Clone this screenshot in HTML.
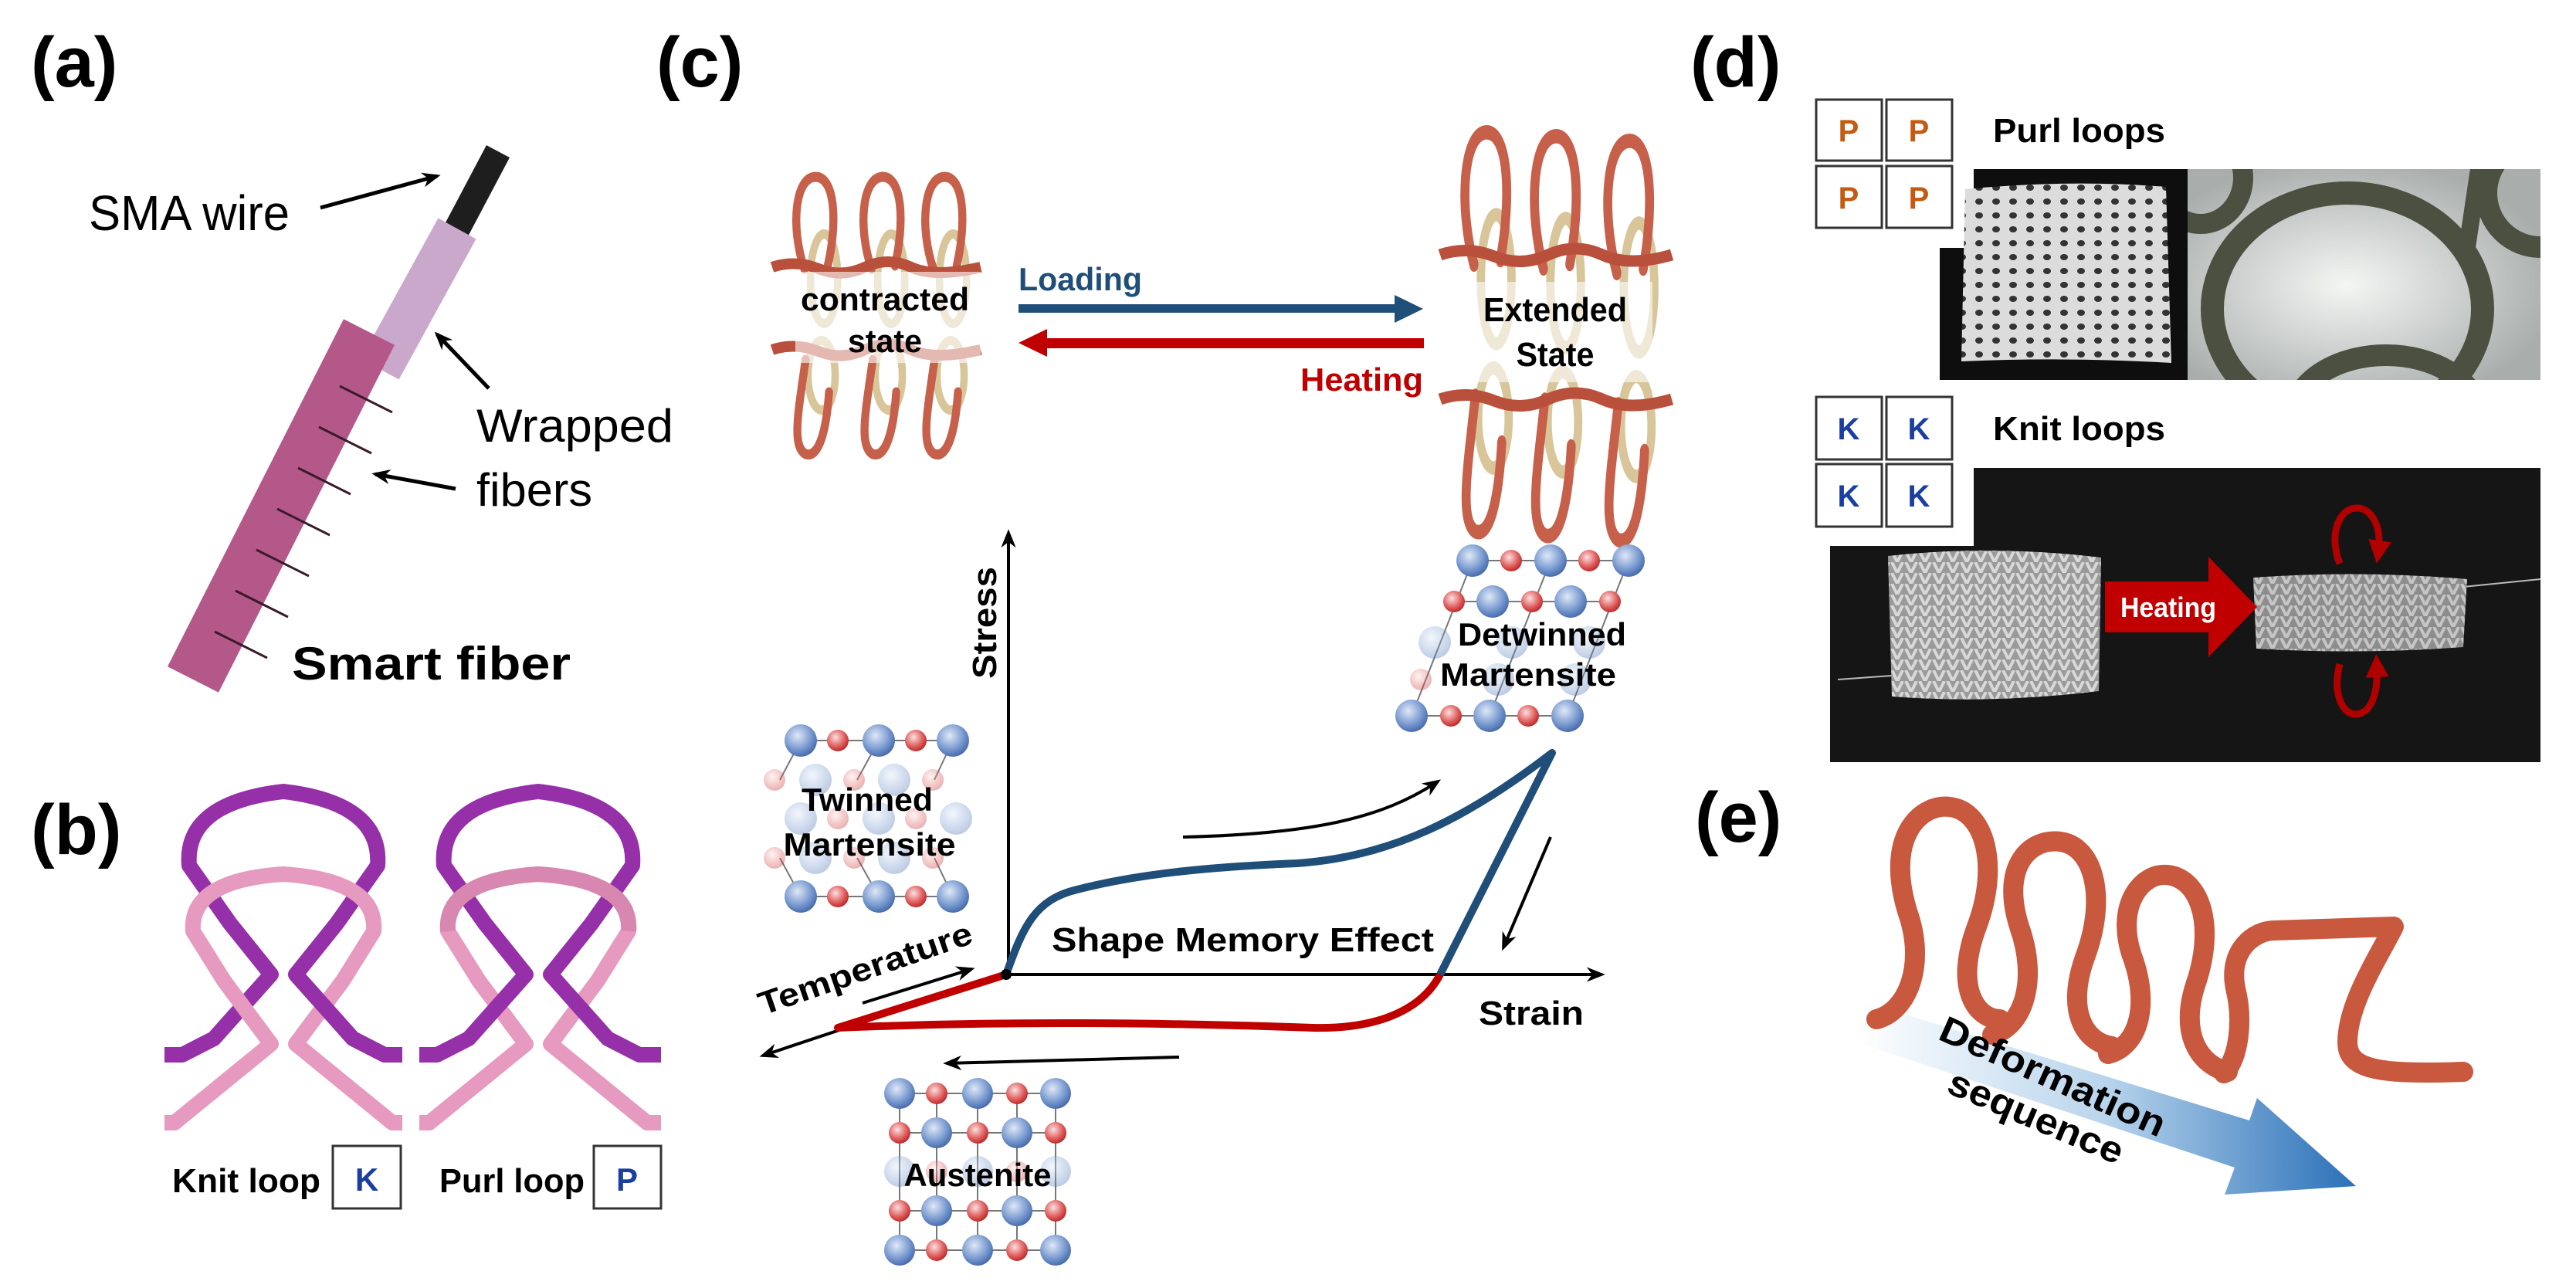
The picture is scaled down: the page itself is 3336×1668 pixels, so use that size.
<!DOCTYPE html>
<html><head><meta charset="utf-8"><style>
html,body{margin:0;padding:0;background:#fff}
svg{display:block}
text{font-family:"Liberation Sans",Arial,sans-serif}
</style></head><body>
<svg width="3336" height="1668" viewBox="0 0 3336 1668" xmlns="http://www.w3.org/2000/svg">
<defs>
<marker id="ahb" viewBox="0 0 10 10" refX="8" refY="5" markerWidth="24" markerHeight="24" orient="auto" markerUnits="userSpaceOnUse"><path d="M0,1 L10,5 L0,9 L3,5 Z" fill="#000"/></marker>
<marker id="ahr" viewBox="0 0 10 10" refX="5" refY="5" markerWidth="30" markerHeight="30" orient="auto" markerUnits="userSpaceOnUse"><path d="M0,0 L10,5 L0,10 Z" fill="#b00000"/></marker>
<radialGradient id="gb" cx="0.4" cy="0.35" r="0.7"><stop offset="0" stop-color="#dfe8f7"/><stop offset="0.6" stop-color="#7a9bd0"/><stop offset="1" stop-color="#3f63a8"/></radialGradient>
<radialGradient id="gr" cx="0.4" cy="0.35" r="0.7"><stop offset="0" stop-color="#fbe0e0"/><stop offset="0.6" stop-color="#e06060"/><stop offset="1" stop-color="#b82020"/></radialGradient>
<linearGradient id="garr" x1="0" y1="0" x2="1" y2="0"><stop offset="0" stop-color="#ffffff"/><stop offset="0.5" stop-color="#b8d4ec"/><stop offset="1" stop-color="#2a70b8"/></linearGradient>
<radialGradient id="gph" cx="0.45" cy="0.55" r="0.6"><stop offset="0" stop-color="#f4f6f4"/><stop offset="1" stop-color="#a9aeac"/></radialGradient>
<pattern id="knitp" width="22" height="18" patternUnits="userSpaceOnUse"><rect width="22" height="18" fill="#dcdcdc"/><ellipse cx="11" cy="9" rx="5" ry="4" fill="#333"/></pattern>
<pattern id="knitv" width="18" height="14" patternUnits="userSpaceOnUse"><rect width="18" height="14" fill="#9a9a9a"/><path d="M2,0 L9,14 M16,0 L9,14" stroke="#d8d8d8" stroke-width="4"/></pattern>
<g id="col">
<ellipse cx="14" cy="135" rx="22" ry="58" fill="none" stroke="#d8c69a" stroke-width="12"/>
<path d="M-18,122 C-40,70 -34,4 0,3 C32,3 36,62 20,118" fill="none" stroke="#c6604a" stroke-width="13" stroke-linecap="round"/>
<ellipse cx="10" cy="260" rx="22" ry="45" fill="none" stroke="#d8c69a" stroke-width="12"/>
<path d="M-16,240 C-26,300 -40,352 -16,362 C6,368 18,330 22,282" fill="none" stroke="#c6604a" stroke-width="13" stroke-linecap="round"/>
</g>
</defs>

<g font-weight="bold" font-size="92" fill="#000">
<text x="40" y="112">(a)</text>
<text x="850" y="112">(c)</text>
<text x="2189" y="112">(d)</text>
<text x="40" y="1106">(b)</text>
<text x="2195" y="1090">(e)</text>
</g>

<line x1="645" y1="196" x2="590" y2="300" stroke="#1e1e1e" stroke-width="34"/>
<line x1="592" y1="296" x2="492" y2="478" stroke="#c9a8cc" stroke-width="56"/>
<line x1="478" y1="430" x2="250" y2="880" stroke="#b4588a" stroke-width="74"/>
<g stroke="#3a1a2a" stroke-width="3">
<line x1="440" y1="500" x2="508" y2="534"/><line x1="413" y1="553" x2="481" y2="587"/>
<line x1="386" y1="606" x2="454" y2="640"/><line x1="359" y1="659" x2="427" y2="693"/>
<line x1="332" y1="712" x2="400" y2="746"/><line x1="305" y1="765" x2="373" y2="799"/>
<line x1="278" y1="818" x2="346" y2="852"/>
</g>
<text x="115" y="298" font-size="64" textLength="260" lengthAdjust="spacingAndGlyphs">SMA wire</text>
<line x1="415" y1="269" x2="566" y2="228" stroke="#000" stroke-width="5" marker-end="url(#ahb)"/>
<text x="617" y="572" font-size="60" textLength="255" lengthAdjust="spacingAndGlyphs">Wrapped</text>
<text x="617" y="655" font-size="60" textLength="150" lengthAdjust="spacingAndGlyphs">fibers</text>
<line x1="633" y1="503" x2="566" y2="433" stroke="#000" stroke-width="5" marker-end="url(#ahb)"/>
<line x1="590" y1="633" x2="486" y2="614" stroke="#000" stroke-width="5" marker-end="url(#ahb)"/>
<text x="378" y="880" font-size="60" font-weight="bold" textLength="361" lengthAdjust="spacingAndGlyphs">Smart fiber</text>

<g fill="none" stroke-width="20" stroke-linejoin="round">
<path d="M213,1366 H236 L277,1345 L351,1262 L298,1196 L245,1121 Q238,1040 367,1025 Q495,1040 489,1121 L436,1196 L383,1262 L457,1345 L498,1366 H521" stroke="#9630a8"/>
<path d="M213,1454 H226 L351,1352 L290,1270 L250,1206 Q245,1140 367,1132 Q489,1140 484,1206 L444,1270 L383,1352 L508,1454 H521" stroke="#e69ac0"/>
<path d="M383,1262 L457,1345 L498,1366 H521" stroke="#9630a8"/>
<path d="M543,1454 H556 L681,1352 L620,1270 L580,1206 Q575,1140 697,1132 Q819,1140 814,1206 L774,1270 L713,1352 L838,1454 H856" stroke="#e69ac0"/>
<path d="M543,1366 H566 L607,1345 L681,1262 L628,1196 L575,1121 Q568,1040 697,1025 Q825,1040 819,1121 L766,1196 L713,1262 L787,1345 L828,1366 H856" stroke="#9630a8"/>
<path d="M580,1206 Q575,1140 697,1132 Q819,1140 814,1206" stroke="#d888b0"/>
</g>
<text x="223" y="1544" font-size="44" font-weight="bold" textLength="192" lengthAdjust="spacingAndGlyphs">Knit loop</text>
<rect x="431" y="1484" width="88" height="81" fill="#fff" stroke="#333" stroke-width="3"/>
<text x="475" y="1542" font-size="42" font-weight="bold" fill="#1a3fa0" text-anchor="middle">K</text>
<text x="569" y="1544" font-size="44" font-weight="bold" textLength="188" lengthAdjust="spacingAndGlyphs">Purl loop</text>
<rect x="769" y="1484" width="87" height="81" fill="#fff" stroke="#333" stroke-width="3"/>
<text x="812" y="1542" font-size="42" font-weight="bold" fill="#1a3fa0" text-anchor="middle">P</text>

<g>
<use href="#col" transform="translate(1056,226) scale(0.8,1)"/>
<use href="#col" transform="translate(1143,226) scale(0.8,1)"/>
<use href="#col" transform="translate(1223,226) scale(0.8,1)"/>
<path d="M1000,346 Q1030,336 1060,348 T1120,346 T1180,346 T1270,346" fill="none" stroke="#b9503c" stroke-width="14"/>
<path d="M1000,453 Q1030,443 1060,455 T1120,453 T1180,453 T1270,453" fill="none" stroke="#b9503c" stroke-width="14"/>
<rect x="1030" y="352" width="240" height="118" fill="#fff" opacity="0.6"/>
</g>
<text x="1146" y="402" font-size="42" font-weight="bold" text-anchor="middle" textLength="218" lengthAdjust="spacingAndGlyphs">contracted</text>
<text x="1146" y="456" font-size="42" font-weight="bold" text-anchor="middle" textLength="96" lengthAdjust="spacingAndGlyphs">state</text>
<g>
<use href="#col" transform="translate(1925,167) scale(0.9,1.44)"/>
<use href="#col" transform="translate(2015,172) scale(0.9,1.44)"/>
<use href="#col" transform="translate(2110,178) scale(0.9,1.44)"/>
<path d="M1865,330 Q1900,318 1935,332 T2005,330 T2075,330 T2165,330" fill="none" stroke="#b9503c" stroke-width="15"/>
<path d="M1865,517 Q1900,505 1935,519 T2005,517 T2075,517 T2165,517" fill="none" stroke="#b9503c" stroke-width="15"/>
<rect x="1900" y="365" width="240" height="130" fill="#fff" opacity="0.6"/>
</g>
<text x="2014" y="416" font-size="44" font-weight="bold" text-anchor="middle" textLength="186" lengthAdjust="spacingAndGlyphs">Extended</text>
<text x="2014" y="474" font-size="44" font-weight="bold" text-anchor="middle" textLength="101" lengthAdjust="spacingAndGlyphs">State</text>

<text x="1319" y="376" font-size="42" font-weight="bold" fill="#1f4e79" textLength="160" lengthAdjust="spacingAndGlyphs">Loading</text>
<rect x="1319" y="394" width="495" height="11" fill="#1f4e79"/>
<polygon points="1806,382 1843,400 1806,418" fill="#1f4e79"/>
<rect x="1352" y="438" width="492" height="13" fill="#c00000"/>
<polygon points="1356,426 1319,444 1356,462" fill="#c00000"/>
<text x="1684" y="506" font-size="42" font-weight="bold" fill="#c00000" textLength="159" lengthAdjust="spacingAndGlyphs">Heating</text>

<line x1="1306" y1="1262" x2="1306" y2="690" stroke="#000" stroke-width="4" marker-end="url(#ahb)"/>
<line x1="1303" y1="1262" x2="2074" y2="1262" stroke="#000" stroke-width="4" marker-end="url(#ahb)"/>
<line x1="1303" y1="1262" x2="988" y2="1367" stroke="#000" stroke-width="4" marker-end="url(#ahb)"/>
<text transform="translate(1290,879) rotate(-90)" font-size="44" font-weight="bold" textLength="145" lengthAdjust="spacingAndGlyphs">Stress</text>
<path d="M1303,1262 C1325,1200 1340,1165 1395,1152 C1480,1130 1580,1122 1680,1118 C1800,1110 1900,1060 2010,975 L1865,1262" fill="none" stroke="#1f4e79" stroke-width="10" stroke-linejoin="round"/>
<path d="M1303,1262 L1085,1331 C1300,1322 1500,1324 1700,1331 C1780,1333 1840,1310 1865,1262" fill="none" stroke="#c00000" stroke-width="10" stroke-linejoin="round"/>
<circle cx="1303" cy="1262" r="7" fill="#000"/>
<path d="M1532,1084 C1700,1080 1790,1060 1862,1012" fill="none" stroke="#000" stroke-width="4" marker-end="url(#ahb)"/>
<line x1="2008" y1="1084" x2="1947" y2="1227" stroke="#000" stroke-width="4" marker-end="url(#ahb)"/>
<line x1="1527" y1="1369" x2="1226" y2="1377" stroke="#000" stroke-width="4" marker-end="url(#ahb)"/>
<line x1="1117" y1="1299" x2="1258" y2="1255" stroke="#000" stroke-width="4" marker-end="url(#ahb)"/>
<text transform="translate(988,1315) rotate(-19)" font-size="42" font-weight="bold" textLength="290" lengthAdjust="spacingAndGlyphs">Temperature</text>
<text x="1362" y="1232" font-size="44" font-weight="bold" textLength="495" lengthAdjust="spacingAndGlyphs">Shape Memory Effect</text>
<text x="1915" y="1327" font-size="44" font-weight="bold" textLength="136" lengthAdjust="spacingAndGlyphs">Strain</text>

<g stroke="#777" stroke-width="2">
<line x1="1037" y1="959" x2="1234" y2="959"/><line x1="1037" y1="1161" x2="1234" y2="1161"/>
<line x1="1037" y1="959" x2="1010" y2="1010"/><line x1="1138" y1="959" x2="1110" y2="1010"/><line x1="1234" y1="959" x2="1210" y2="1010"/>
<line x1="1010" y1="1111" x2="1037" y2="1161"/><line x1="1110" y1="1111" x2="1138" y2="1161"/><line x1="1210" y1="1111" x2="1234" y2="1161"/>
</g>
<g>
<circle cx="1037" cy="959" r="21" fill="url(#gb)"/><circle cx="1085" cy="959" r="14" fill="url(#gr)"/><circle cx="1138" cy="959" r="21" fill="url(#gb)"/><circle cx="1186" cy="959" r="14" fill="url(#gr)"/><circle cx="1234" cy="959" r="21" fill="url(#gb)"/>
<g opacity="0.35">
<circle cx="1003" cy="1010" r="14" fill="url(#gr)"/><circle cx="1056" cy="1010" r="21" fill="url(#gb)"/><circle cx="1106" cy="1010" r="14" fill="url(#gr)"/><circle cx="1158" cy="1010" r="21" fill="url(#gb)"/><circle cx="1208" cy="1010" r="14" fill="url(#gr)"/>
<circle cx="1037" cy="1060" r="21" fill="url(#gb)"/><circle cx="1085" cy="1060" r="14" fill="url(#gr)"/><circle cx="1138" cy="1060" r="21" fill="url(#gb)"/><circle cx="1186" cy="1060" r="14" fill="url(#gr)"/><circle cx="1238" cy="1060" r="21" fill="url(#gb)"/>
<circle cx="1003" cy="1111" r="14" fill="url(#gr)"/><circle cx="1056" cy="1111" r="21" fill="url(#gb)"/><circle cx="1106" cy="1111" r="14" fill="url(#gr)"/><circle cx="1158" cy="1111" r="21" fill="url(#gb)"/><circle cx="1208" cy="1111" r="14" fill="url(#gr)"/>
</g>
<circle cx="1037" cy="1161" r="21" fill="url(#gb)"/><circle cx="1085" cy="1161" r="14" fill="url(#gr)"/><circle cx="1138" cy="1161" r="21" fill="url(#gb)"/><circle cx="1186" cy="1161" r="14" fill="url(#gr)"/><circle cx="1234" cy="1161" r="21" fill="url(#gb)"/>
</g>
<text x="1123" y="1050" font-size="42" font-weight="bold" text-anchor="middle" textLength="170" lengthAdjust="spacingAndGlyphs">Twinned</text>
<text x="1126" y="1108" font-size="42" font-weight="bold" text-anchor="middle" textLength="223" lengthAdjust="spacingAndGlyphs">Martensite</text>

<g stroke="#777" stroke-width="2">
<line x1="1165" y1="1416" x2="1367" y2="1416"/><line x1="1165" y1="1467" x2="1367" y2="1467"/><line x1="1165" y1="1568" x2="1367" y2="1568"/><line x1="1165" y1="1619" x2="1367" y2="1619"/>
<line x1="1165" y1="1416" x2="1165" y2="1619"/><line x1="1213" y1="1416" x2="1213" y2="1619"/><line x1="1266" y1="1416" x2="1266" y2="1619"/><line x1="1317" y1="1416" x2="1317" y2="1619"/><line x1="1367" y1="1416" x2="1367" y2="1619"/>
</g>
<g>
<circle cx="1165" cy="1416" r="20" fill="url(#gb)"/><circle cx="1213" cy="1416" r="14" fill="url(#gr)"/><circle cx="1266" cy="1416" r="20" fill="url(#gb)"/><circle cx="1317" cy="1416" r="14" fill="url(#gr)"/><circle cx="1367" cy="1416" r="20" fill="url(#gb)"/>
<circle cx="1165" cy="1467" r="14" fill="url(#gr)"/><circle cx="1213" cy="1467" r="20" fill="url(#gb)"/><circle cx="1266" cy="1467" r="14" fill="url(#gr)"/><circle cx="1317" cy="1467" r="20" fill="url(#gb)"/><circle cx="1367" cy="1467" r="14" fill="url(#gr)"/>
<g opacity="0.35"><circle cx="1165" cy="1517" r="20" fill="url(#gb)"/><circle cx="1213" cy="1517" r="14" fill="url(#gr)"/><circle cx="1266" cy="1517" r="20" fill="url(#gb)"/><circle cx="1317" cy="1517" r="14" fill="url(#gr)"/><circle cx="1367" cy="1517" r="20" fill="url(#gb)"/></g>
<circle cx="1165" cy="1568" r="14" fill="url(#gr)"/><circle cx="1213" cy="1568" r="20" fill="url(#gb)"/><circle cx="1266" cy="1568" r="14" fill="url(#gr)"/><circle cx="1317" cy="1568" r="20" fill="url(#gb)"/><circle cx="1367" cy="1568" r="14" fill="url(#gr)"/>
<circle cx="1165" cy="1619" r="20" fill="url(#gb)"/><circle cx="1213" cy="1619" r="14" fill="url(#gr)"/><circle cx="1266" cy="1619" r="20" fill="url(#gb)"/><circle cx="1317" cy="1619" r="14" fill="url(#gr)"/><circle cx="1367" cy="1619" r="20" fill="url(#gb)"/>
</g>
<text x="1266" y="1536" font-size="42" font-weight="bold" text-anchor="middle" textLength="191" lengthAdjust="spacingAndGlyphs">Austenite</text>

<g stroke="#777" stroke-width="2">
<line x1="1907" y1="726" x2="2109" y2="726"/><line x1="1883" y1="779" x2="2085" y2="779"/><line x1="1828" y1="927" x2="2030" y2="927"/>
<line x1="1907" y1="726" x2="1828" y2="927"/><line x1="2008" y1="726" x2="1929" y2="927"/><line x1="2109" y1="726" x2="2030" y2="927"/>
</g>
<g>
<circle cx="1907" cy="726" r="21" fill="url(#gb)"/><circle cx="1957" cy="726" r="14" fill="url(#gr)"/><circle cx="2008" cy="726" r="21" fill="url(#gb)"/><circle cx="2058" cy="726" r="14" fill="url(#gr)"/><circle cx="2109" cy="726" r="21" fill="url(#gb)"/>
<circle cx="1883" cy="779" r="14" fill="url(#gr)"/><circle cx="1933" cy="779" r="21" fill="url(#gb)"/><circle cx="1984" cy="779" r="14" fill="url(#gr)"/><circle cx="2034" cy="779" r="21" fill="url(#gb)"/><circle cx="2085" cy="779" r="14" fill="url(#gr)"/>
<g opacity="0.35"><circle cx="1858" cy="832" r="21" fill="url(#gb)"/><circle cx="1958" cy="832" r="21" fill="url(#gb)"/><circle cx="2058" cy="832" r="21" fill="url(#gb)"/><circle cx="1840" cy="880" r="14" fill="url(#gr)"/><circle cx="1940" cy="880" r="21" fill="url(#gb)"/><circle cx="2040" cy="880" r="21" fill="url(#gb)"/></g>
<circle cx="1828" cy="927" r="21" fill="url(#gb)"/><circle cx="1879" cy="927" r="14" fill="url(#gr)"/><circle cx="1929" cy="927" r="21" fill="url(#gb)"/><circle cx="1979" cy="927" r="14" fill="url(#gr)"/><circle cx="2030" cy="927" r="21" fill="url(#gb)"/>
</g>
<text x="1997" y="836" font-size="42" font-weight="bold" text-anchor="middle" textLength="218" lengthAdjust="spacingAndGlyphs">Detwinned</text>
<text x="1979" y="888" font-size="42" font-weight="bold" text-anchor="middle" textLength="228" lengthAdjust="spacingAndGlyphs">Martensite</text>

<g stroke="#333" stroke-width="3" fill="#fff">
<rect x="2352" y="129" width="85" height="79"/><rect x="2443" y="129" width="85" height="79"/>
<rect x="2352" y="215" width="85" height="80"/><rect x="2443" y="215" width="85" height="80"/>
<rect x="2352" y="514" width="85" height="81"/><rect x="2443" y="514" width="85" height="81"/>
<rect x="2352" y="601" width="85" height="81"/><rect x="2443" y="601" width="85" height="81"/>
</g>
<g font-size="40" font-weight="bold" text-anchor="middle" fill="#c55a11">
<text x="2394" y="183">P</text><text x="2485" y="183">P</text><text x="2394" y="270">P</text><text x="2485" y="270">P</text>
</g>
<g font-size="40" font-weight="bold" text-anchor="middle" fill="#1a3fa0">
<text x="2394" y="569">K</text><text x="2485" y="569">K</text><text x="2394" y="656">K</text><text x="2485" y="656">K</text>
</g>
<text x="2581" y="184" font-size="44" font-weight="bold" textLength="223" lengthAdjust="spacingAndGlyphs">Purl loops</text>
<text x="2581" y="570" font-size="44" font-weight="bold" textLength="223" lengthAdjust="spacingAndGlyphs">Knit loops</text>

<rect x="2556" y="219" width="278" height="273" fill="#0e0e0e"/>
<rect x="2512" y="321" width="50" height="171" fill="#0e0e0e"/>
<path d="M2545,245 Q2680,232 2805,242 L2812,470 Q2680,462 2540,468 Z" fill="url(#knitp)"/>
<rect x="2833" y="219" width="457" height="273" fill="url(#gph)"/>
<svg x="2833" y="219" width="457" height="273" viewBox="2833 219 457 273">
<ellipse cx="3040" cy="400" rx="175" ry="150" fill="none" stroke="#4b5040" stroke-width="30"/>
<ellipse cx="2850" cy="230" rx="55" ry="60" fill="none" stroke="#4b5040" stroke-width="26"/>
<ellipse cx="3290" cy="250" rx="70" ry="70" fill="none" stroke="#4b5040" stroke-width="28"/>
<ellipse cx="3090" cy="540" rx="120" ry="80" fill="none" stroke="#4b5040" stroke-width="28"/>
<line x1="3210" y1="219" x2="3195" y2="320" stroke="#4b5040" stroke-width="22"/>
</svg>

<rect x="2556" y="606" width="734" height="381" fill="#151515"/>
<rect x="2370" y="707" width="190" height="280" fill="#151515"/>
<line x1="2380" y1="880" x2="2450" y2="875" stroke="#bbb" stroke-width="2"/>
<line x1="3190" y1="760" x2="3290" y2="750" stroke="#bbb" stroke-width="2"/>
<path d="M2445,720 Q2580,705 2721,722 L2718,895 Q2580,912 2450,902 Z" fill="url(#knitv)"/>
<path d="M2918,748 Q3055,738 3195,750 L3190,838 Q3055,848 2922,840 Z" fill="url(#knitv)" opacity="0.9"/>
<rect x="2726" y="753" width="140" height="66" fill="#c00000"/>
<polygon points="2860,721 2923,786 2860,851" fill="#c00000"/>
<text x="2746" y="799" font-size="36" font-weight="bold" fill="#fff" textLength="124" lengthAdjust="spacingAndGlyphs">Heating</text>
<path d="M3030,730 C3015,690 3030,660 3050,658 C3070,656 3085,680 3080,715" fill="none" stroke="#b00000" stroke-width="9" marker-end="url(#ahr)"/>
<path d="M3030,860 C3020,900 3035,925 3050,925 C3070,925 3080,900 3078,862" fill="none" stroke="#b00000" stroke-width="9" marker-end="url(#ahr)"/>

<polygon points="2413,1297 2913,1451 2923,1422 3051,1536 2881,1547 2894,1512 2405,1350" fill="url(#garr)"/>
<g fill="none" stroke="#c8583e" stroke-width="26" stroke-linecap="round" stroke-linejoin="round">
<path d="M2430,1320 C2470,1310 2495,1250 2470,1180 C2440,1080 2490,1040 2525,1045 C2570,1050 2590,1120 2560,1200 C2530,1280 2560,1320 2590,1320"/>
<path d="M2580,1340 C2620,1330 2640,1270 2615,1200 C2590,1120 2630,1085 2668,1090 C2710,1095 2730,1160 2700,1240 C2675,1310 2700,1350 2735,1355"/>
<path d="M2730,1365 C2770,1355 2785,1300 2760,1235 C2740,1170 2775,1130 2806,1133 C2845,1136 2870,1190 2845,1270 C2820,1340 2850,1380 2885,1388"/>
<path d="M2880,1390 C2900,1370 2905,1320 2895,1280 C2885,1230 2920,1205 2945,1205 L3100,1200 C3080,1240 3040,1300 3040,1350 C3040,1385 3080,1392 3190,1388"/>
</g>
<text transform="translate(2508,1345) rotate(24)" font-size="48" font-weight="bold" textLength="315" lengthAdjust="spacingAndGlyphs">Deformation</text>
<text transform="translate(2519,1414) rotate(23)" font-size="48" font-weight="bold" textLength="242" lengthAdjust="spacingAndGlyphs">sequence</text>
</svg>
</body></html>
